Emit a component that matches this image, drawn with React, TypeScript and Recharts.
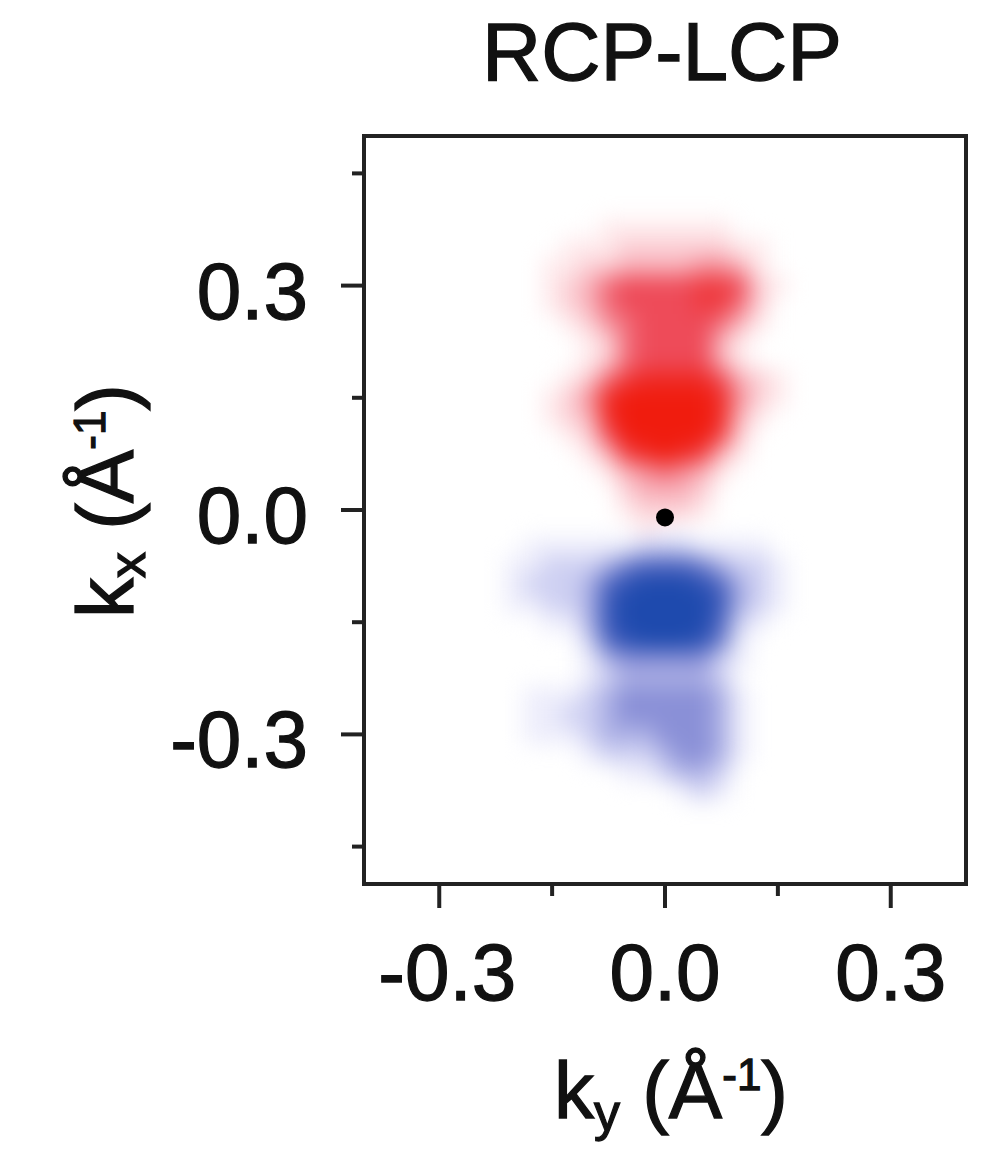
import React from 'react';
import { ScatterChart, Scatter, XAxis, YAxis, ReferenceArea } from 'recharts';

// ---- data ----
const kyCenters = [-0.225, -0.2, -0.175, -0.15, -0.125, -0.1, -0.075, -0.05, -0.025, 0, 0.025, 0.05, 0.075, 0.1, 0.125, 0.15, 0.175, 0.2];
const kxCenters = [
  0.4, 0.375, 0.35, 0.325, 0.3, 0.275, 0.25, 0.225, 0.2, 0.175, 0.15, 0.125, 0.1, 0.075, 0.05, 0.025, 0,
  -0.025, -0.05, -0.075, -0.1, -0.125, -0.15, -0.175, -0.2, -0.225, -0.25, -0.275, -0.3, -0.325, -0.35, -0.375, -0.4,
];
// signed RCP-LCP intensity (+ red, - blue), scale 0..9
const intensityRows = [
  [0, 0, 0, 0, 0, 0, 0, 0, 0, 0, 0, 0, 0, 0, 0, 0, 0, 0],
  [0, 0, 0, 0, 0, 0, 1, 1, 1, 1, 1, 1, 1, 0, 0, 0, 0, 0],
  [0, 0, 0, 0, 1, 1, 1, 2, 2, 2, 2, 2, 2, 1, 1, 0, 0, 0],
  [0, 0, 0, 1, 1, 2, 2, 3, 3, 3, 3, 4, 4, 3, 1, 0, 0, 0],
  [0, 0, 0, 1, 2, 3, 5, 6, 6, 6, 6, 7, 7, 6, 2, 1, 0, 0],
  [0, 0, 0, 1, 2, 3, 5, 6, 6, 6, 6, 7, 7, 5, 2, 0, 0, 0],
  [0, 0, 0, 0, 1, 2, 4, 5, 6, 6, 6, 6, 5, 3, 1, 0, 0, 0],
  [0, 0, 0, 0, 0, 1, 2, 5, 6, 6, 6, 6, 3, 1, 0, 0, 0, 0],
  [0, 0, 0, 0, 0, 1, 2, 5, 6, 6, 6, 6, 3, 1, 0, 0, 0, 0],
  [0, 0, 0, 0, 1, 2, 5, 7, 8, 8, 8, 8, 6, 3, 2, 1, 0, 0],
  [0, 0, 0, 1, 2, 4, 8, 9, 9, 9, 9, 9, 8, 4, 2, 1, 0, 0],
  [0, 0, 0, 1, 2, 3, 8, 9, 9, 9, 9, 9, 8, 3, 1, 0, 0, 0],
  [0, 0, 0, 0, 1, 2, 6, 9, 9, 9, 9, 9, 7, 2, 0, 0, 0, 0],
  [0, 0, 0, 0, 0, 1, 3, 7, 8, 9, 8, 7, 3, 1, 0, 0, 0, 0],
  [0, 0, 0, 0, 0, 0, 1, 3, 4, 5, 4, 3, 1, 0, 0, 0, 0, 0],
  [0, 0, 0, 0, 0, 0, 0, 2, 3, 3, 3, 2, 0, 0, 0, 0, 0, 0],
  [0, 0, 0, 0, 0, 0, 0, 1, 2, 2, 2, 1, 0, 0, 0, 0, 0, 0],
  [0, 0, 0, 0, 0, 0, 0, 0, 1, 0, 0, 0, 0, 0, 0, 0, 0, 0],
  [0, 0, -1, -1, -1, -1, -1, -1, -2, -2, -2, -1, -1, -1, -1, 0, 0, 0],
  [0, -1, -1, -2, -2, -2, -3, -5, -6, -6, -6, -5, -3, -2, -2, -1, 0, 0],
  [0, -1, -2, -2, -2, -3, -6, -8, -9, -9, -9, -8, -6, -3, -2, -1, 0, 0],
  [0, -1, -1, -2, -2, -3, -7, -9, -9, -9, -9, -9, -7, -3, -2, -1, 0, 0],
  [0, 0, 0, -1, -1, -3, -7, -9, -9, -9, -9, -9, -6, -2, -1, 0, 0, 0],
  [0, 0, 0, 0, 0, -2, -6, -8, -9, -9, -9, -8, -5, -1, 0, 0, 0, 0],
  [0, 0, 0, 0, 0, -1, -3, -4, -4, -4, -4, -4, -2, -1, 0, 0, 0, 0],
  [0, 0, 0, 0, 0, -1, -2, -3, -3, -3, -3, -3, -2, 0, 0, 0, 0, 0],
  [0, 0, -1, -1, -1, -2, -3, -4, -4, -4, -4, -4, -3, -1, 0, 0, 0, 0],
  [0, 0, -1, -1, -2, -2, -3, -4, -4, -4, -4, -4, -3, -1, 0, 0, 0, 0],
  [0, 0, -1, -1, -1, -2, -3, -3, -3, -4, -4, -4, -3, -1, 0, 0, 0, 0],
  [0, 0, 0, 0, 0, -1, -2, -2, -2, -3, -4, -4, -3, -1, 0, 0, 0, 0],
  [0, 0, 0, 0, 0, 0, 0, -1, -1, -2, -3, -3, -2, 0, 0, 0, 0, 0],
  [0, 0, 0, 0, 0, 0, 0, 0, 0, 0, -1, -2, -1, 0, 0, 0, 0, 0],
  [0, 0, 0, 0, 0, 0, 0, 0, 0, 0, 0, 0, 0, 0, 0, 0, 0, 0],
];
const gammaPoint = [{ ky: 0, kx: -0.01 }];
const xTicks = [-0.3, -0.15, 0, 0.15, 0.3];
const yTicks = [-0.45, -0.3, -0.15, 0, 0.15, 0.3, 0.45];
const majorTicks = [-0.3, 0, 0.3];
const xDomain: [number, number] = [-0.4, 0.4];
const yDomain: [number, number] = [-0.5, 0.5];
const cellStep = 0.025;
const titleText = 'RCP-LCP';

// ---- layout ----
const W = 987;
const H = 1152;
const M_TOP = 136;
const M_RIGHT = 21;
const Y_AXIS_W = 364;
const X_AXIS_H = 268;
const PLOT_W = W - M_RIGHT - Y_AXIS_W;
const PLOT_H = H - M_TOP - X_AXIS_H;
const CELL_W = (PLOT_W / (xDomain[1] - xDomain[0])) * cellStep + 1;
const CELL_H = (PLOT_H / (yDomain[1] - yDomain[0])) * cellStep + 1;
const FONT = '"Liberation Sans", Arial, Helvetica, sans-serif';
const INK = '#222';
const TEXT_INK = '#111';
const TEXT_STROKE = 1.3;

const heatData = kxCenters.flatMap((kx, r) =>
  kyCenters.map((ky, c) => ({ ky, kx, v: intensityRows[r][c] }))
).filter((d) => d.v !== 0);

type Stop = [number, [number, number, number]];
const redStops: Stop[] = [
  [0, [255, 255, 255]],
  [0.15, [253, 226, 230]],
  [0.35, [247, 172, 182]],
  [0.67, [238, 74, 88]],
  [1, [240, 28, 14]],
];
const blueStops: Stop[] = [
  [0, [255, 255, 255]],
  [0.13, [234, 234, 250]],
  [0.25, [198, 200, 240]],
  [0.45, [136, 142, 214]],
  [0.7, [72, 96, 190]],
  [1, [30, 74, 174]],
];
function interp(stops: Stop[], t: number) {
  for (let i = 1; i < stops.length; i++) {
    if (t <= stops[i][0]) {
      const [t0, c0] = stops[i - 1];
      const [t1, c1] = stops[i];
      const f = (t - t0) / (t1 - t0);
      const c = c0.map((v, k) => Math.round(v + (c1[k] - v) * f));
      return `rgb(${c[0]},${c[1]},${c[2]})`;
    }
  }
  const c = stops[stops.length - 1][1];
  return `rgb(${c[0]},${c[1]},${c[2]})`;
}
function colorFor(v: number) {
  const t = Math.min(1, Math.abs(v) / 9);
  return v >= 0 ? interp(redStops, t) : interp(blueStops, t);
}

const HeatCell = (props: any) => {
  const { cx, cy, payload } = props;
  if (cx == null || cy == null) return null;
  return (
    <rect x={cx - CELL_W / 2} y={cy - CELL_H / 2} width={CELL_W} height={CELL_H} fill={colorFor(payload.v)} />
  );
};

const GammaDot = (props: any) => {
  const { cx, cy } = props;
  if (cx == null || cy == null) return null;
  return <circle cx={cx} cy={cy} r={9} fill="#000" />;
};

const isMajor = (v: number) => majorTicks.some((m) => Math.abs(m - v) < 1e-6);
const fmt = (v: number) => v.toFixed(1);

const textProps = {
  fontFamily: FONT,
  fill: TEXT_INK,
  stroke: TEXT_INK,
  strokeWidth: TEXT_STROKE,
};

const YTick = (props: any) => {
  const { x, y, payload } = props;
  const v = payload.value;
  const major = isMajor(v);
  return (
    <g>
      <line x1={x} y1={y} x2={x - (major ? 23 : 12)} y2={y} stroke={INK} strokeWidth={4} />
      {major && (
        <text x={x - 56} y={y + 33} textAnchor="end" fontSize={80} {...textProps}>
          {fmt(v)}
        </text>
      )}
    </g>
  );
};

const XTick = (props: any) => {
  const { x, y, payload } = props;
  const v = payload.value;
  const major = isMajor(v);
  return (
    <g>
      <line x1={x} y1={y} x2={x} y2={y + (major ? 24 : 12)} stroke={INK} strokeWidth={4} />
      {major && (
        <text x={x + (v < 0 ? 8 : 0)} y={y + 116} textAnchor="middle" fontSize={80} {...textProps}>
          {fmt(v)}
        </text>
      )}
    </g>
  );
};

const XLabel = (props: any) => {
  const vb = props.viewBox || {};
  const cx = vb.x + vb.width / 2 + 6;
  const by = vb.y + 234;
  return (
    <text x={cx} y={by} textAnchor="middle" fontSize={80} {...textProps}>
      <tspan>k</tspan>
      <tspan fontSize={52} dy={12}>y</tspan>
      <tspan dy={-12}> (Å</tspan>
      <tspan fontSize={44} dy={-28}>-1</tspan>
      <tspan dy={28}>)</tspan>
    </text>
  );
};

const YLabel = (props: any) => {
  const vb = props.viewBox || {};
  const bx = vb.x + 133;
  const cy = vb.y + vb.height / 2 - 9;
  return (
    <text
      x={bx}
      y={cy}
      transform={`rotate(-90, ${bx}, ${cy})`}
      textAnchor="middle"
      fontSize={80}
      {...textProps}
    >
      <tspan>k</tspan>
      <tspan fontSize={52} dy={12}>x</tspan>
      <tspan dy={-12}> (Å</tspan>
      <tspan fontSize={44} dy={-28}>-1</tspan>
      <tspan dy={28}>)</tspan>
    </text>
  );
};

const TitleLabel = (props: any) => {
  const vb = props.viewBox || {};
  return (
    <text x={vb.x + vb.width / 2 - 3} y={vb.y - 56} textAnchor="middle" fontSize={82} {...textProps}>
      {titleText}
    </text>
  );
};

export default function App() {
  return (
    <div style={{ position: 'absolute', left: 0, top: 0, width: W, height: H, background: '#fff' }}>
      <style>{`.heat-layer { filter: blur(11px); }`}</style>
      <ScatterChart width={W} height={H} margin={{ top: M_TOP, right: M_RIGHT, left: 0, bottom: 0 }}>
        <XAxis
          type="number"
          dataKey="ky"
          domain={xDomain}
          allowDataOverflow
          ticks={xTicks}
          interval={0}
          tickSize={0}
          tickMargin={0}
          tickLine={false}
          axisLine={false}
          height={X_AXIS_H}
          tick={<XTick />}
          label={{ content: <XLabel /> }}
        />
        <YAxis
          type="number"
          dataKey="kx"
          domain={yDomain}
          allowDataOverflow
          ticks={yTicks}
          interval={0}
          tickSize={0}
          tickMargin={0}
          tickLine={false}
          axisLine={false}
          width={Y_AXIS_W}
          tick={<YTick />}
          label={{ content: <YLabel /> }}
        />
        <Scatter
          className="heat-layer"
          data={heatData}
          shape={<HeatCell />}
          isAnimationActive={false}
        />
        <Scatter data={gammaPoint} shape={<GammaDot />} isAnimationActive={false} />
        <ReferenceArea
          x1={xDomain[0]}
          x2={xDomain[1]}
          y1={yDomain[0]}
          y2={yDomain[1]}
          fill="none"
          fillOpacity={0}
          stroke={INK}
          strokeWidth={4}
          ifOverflow="visible"
          label={{ content: <TitleLabel /> }}
        />
      </ScatterChart>
    </div>
  );
}
